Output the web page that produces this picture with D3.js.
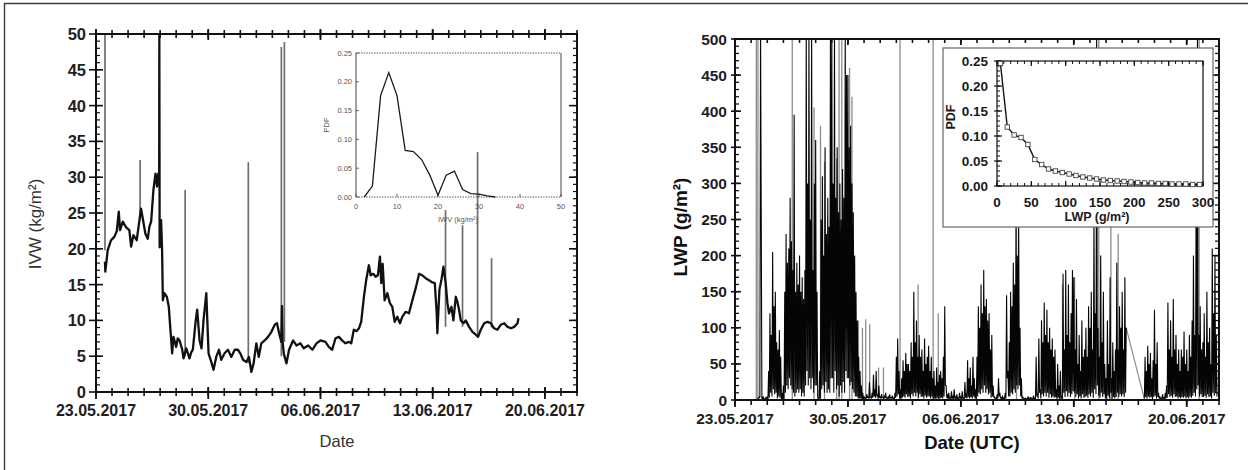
<!DOCTYPE html>
<html>
<head>
<meta charset="utf-8">
<script src="https://cdn.jsdelivr.net/npm/d3@7"></script>
<style>
  body { margin: 0; background: #fff; }
  svg { display: block; }
  text { font-family: "Liberation Sans", Arial, sans-serif; }
</style>
</head>
<body>
<svg id="chart" width="1248" height="470"></svg>
<script>
// ---------- data ----------
const periodStart = "23.05.2017";
const periodEnd = "22.06.2017";
const dateTickLabels = ["23.05.2017", "30.05.2017", "06.06.2017", "13.06.2017", "20.06.2017"];

// Integrated water vapour, time in days after 23.05.2017 00:00
const iwvDays = [0.56,0.58,0.73,0.94,1.15,1.30,1.42,1.50,1.67,1.88,2.08,2.19,2.33,2.54,2.71,2.81,2.92,3.08,3.23,3.33,3.44,3.58,3.71,3.81,3.88,3.94,3.95,3.97,4.06,4.12,4.17,4.27,4.42,4.54,4.63,4.75,4.83,5.00,5.10,5.21,5.38,5.46,5.63,5.83,5.95,6.04,6.21,6.31,6.46,6.58,6.71,6.88,7.02,7.19,7.33,7.50,7.67,7.81,8.02,8.23,8.44,8.65,8.85,9.00,9.17,9.38,9.54,9.69,9.83,10.00,10.15,10.31,10.52,10.73,10.94,11.15,11.29,11.42,11.56,11.60,11.64,11.71,11.88,12.04,12.29,12.50,12.75,12.96,13.23,13.50,13.75,14.00,14.31,14.52,14.73,14.94,15.15,15.35,15.56,15.77,15.92,16.08,16.25,16.40,16.54,16.71,16.85,17.02,17.13,17.29,17.44,17.58,17.71,17.79,17.88,18.00,18.17,18.33,18.48,18.63,18.79,18.96,19.10,19.31,19.52,19.73,19.94,20.15,20.35,20.56,20.77,20.98,21.13,21.25,21.29,21.42,21.54,21.67,21.81,21.92,22.02,22.17,22.29,22.44,22.54,22.65,22.75,22.92,23.06,23.27,23.48,23.69,23.83,24.00,24.21,24.42,24.63,24.83,25.04,25.25,25.46,25.67,25.88,26.08,26.29,26.35];
const iwvValues = [18.2,16.8,19.8,21.2,21.7,22.5,25.2,22.6,23.8,23.0,22.6,20.3,21.9,21.2,24.0,25.6,24.2,22.1,21.4,23.1,23.8,28.2,30.5,28.7,30.5,29.0,50.0,20.2,24.0,20.0,12.8,13.8,13.3,11.9,9.1,5.4,7.7,6.3,7.5,7.2,5.9,4.7,6.1,4.7,5.6,5.9,9.8,11.5,7.2,6.1,10.1,13.8,5.4,4.2,3.1,4.9,5.9,4.5,5.4,5.9,4.9,5.9,5.9,5.4,4.5,4.2,4.9,2.8,4.0,6.8,4.9,6.8,7.2,7.7,8.4,9.4,9.6,8.2,7.0,12.0,7.0,5.4,4.0,5.9,7.2,6.5,6.8,6.1,6.5,5.9,6.8,7.2,7.0,6.3,5.9,7.5,7.7,7.2,6.8,7.0,6.8,8.7,8.5,8.9,9.8,13.3,15.6,17.7,16.3,16.5,16.1,16.3,18.9,15.2,17.9,12.8,13.8,12.4,11.9,9.8,10.5,9.6,10.5,11.2,11.0,12.8,14.5,16.5,16.3,15.9,15.6,15.3,15.2,11.0,8.2,14.3,15.6,17.5,15.2,12.4,11.0,11.9,10.0,13.3,12.6,11.4,10.0,9.6,10.0,9.1,8.4,8.0,7.7,8.7,9.6,9.8,9.6,8.9,8.7,9.4,9.6,9.1,8.9,9.1,9.6,10.3];

// Single-sample IWV outliers (spike from base value to top value)
const iwvSpikeDays = [0.56, 2.75, 5.56, 9.50, 11.56, 11.75, 21.80, 22.86, 23.80, 24.67];
const iwvSpikeBase = [19.8, 24.0, 5.0, 4.0, 5.0, 7.0, 9.1, 9.1, 7.7, 9.0];
const iwvSpikeTop  = [50.0, 32.4, 28.2, 32.1, 48.2, 48.9, 25.4, 23.3, 33.5, 18.7];

// IWV probability density
const iwvPdfX = [2,4,6,8,10,12,14,16,18,20,22,24,26,28,30,32,34];
const iwvPdfY = [0.000,0.019,0.176,0.216,0.176,0.081,0.079,0.065,0.038,0.003,0.038,0.045,0.013,0.006,0.005,0.002,0.000];

// Liquid water path, hourly, first sample at day 1.25 (null = no data)
const lwpStartDay = 1.25;
const lwpStepHours = 1;
const lwpValues = [
  0,0,1,0,2,1,5,3,520,260,3,1,5,0,2,0,4,2,
  5,0,40,3,120,10,90,5,205,15,130,8,150,10,80,2,70,5,97,3,60,0,10,0,
  20,0,150,10,230,20,190,15,210,30,280,20,220,15,180,10,395,5,150,10,190,15,160,10,
  200,15,150,5,170,10,140,5,180,20,520,40,300,20,520,30,250,15,520,30,180,10,300,20,
  360,20,150,5,0,0,40,2,250,15,310,20,200,10,350,25,230,10,280,15,240,10,520,30,
  520,30,300,10,520,40,280,15,350,20,260,5,300,20,250,10,320,25,280,10,520,40,450,30,
  450,30,350,20,380,25,300,15,260,10,200,5,150,5,110,3,60,2,40,2,20,1,10,1,
  5,2,3,1,8,3,5,2,25,4,4,2,10,3,35,5,15,3,40,5,8,2,20,3,
  5,2,8,3,4,2,6,2,10,3,3,1,5,2,8,2,4,2,6,2,3,1,10,3,
  60,5,85,8,40,2,15,1,30,3,55,5,40,3,65,8,50,4,50,5,40,2,80,8,
  60,5,150,10,80,5,110,10,60,3,90,8,60,4,70,5,40,2,85,6,50,3,60,5,
  75,5,40,2,60,5,30,1,40,2,20,1,45,3,25,1,35,2,40,3,30,2,60,5,
  130,20,20,3,8,1,10,2,4,1,12,2,6,1,15,2,5,1,8,2,3,1,10,2,
  5,1,12,2,4,1,25,3,10,2,55,4,30,2,45,4,20,2,60,5,30,2,15,1,
  60,5,130,10,100,8,160,15,120,10,180,20,130,10,140,15,110,8,120,10,70,3,90,5,
  20,3,5,1,3,1,8,2,30,5,10,2,4,1,6,1,3,1,10,2,145,30,40,5,
  80,5,150,10,130,8,190,15,160,10,240,20,200,15,250,20,100,5,30,2,5,1,2,1,
  3,1,2,1,5,1,3,1,4,1,2,1,6,1,3,1,60,5,10,2,85,10,15,2,
  110,8,80,5,135,10,90,5,125,10,80,3,100,8,70,3,85,5,60,3,70,4,15,1,
  50,3,20,1,40,2,5,1,175,10,70,4,180,12,90,5,160,10,80,4,120,8,180,12,
  170,10,70,4,140,8,50,2,90,5,40,2,110,8,60,3,70,4,100,6,60,3,130,8,
  100,5,150,10,70,3,250,15,120,8,520,20,100,6,60,3,200,10,80,4,150,8,50,2,
  30,1,110,6,50,2,170,10,30,1,80,4,40,2,70,4,190,10,70,4,130,8,100,5,
  150,8,70,4,170,10,100,null,null,null,null,null,null,null,null,null,null,null,null,null,null,null,null,null,
  null,null,null,null,null,null,null,null,5,2,60,4,40,2,75,5,50,3,65,4,30,1,55,4,
  125,6,50,2,80,4,10,2,5,1,3,1,8,2,4,1,10,2,20,3,135,8,70,4,
  110,6,60,3,140,8,70,4,90,5,50,2,70,4,40,2,70,4,60,3,95,5,50,2,
  70,4,40,2,90,5,60,3,110,6,200,10,90,5,300,15,520,20,90,5,130,8,70,4,
  80,4,120,6,60,3,150,8,80,4,100,5,50,2,210,10,120,6,200,10,90,5
];

// Second LWP retrieval: isolated spikes and the line across the data gap
const lwpGrayDays = [1.32,1.42,3.55,4.90,5.30,5.55,6.30,6.45,6.62,7.10,7.25,7.65,7.90,8.10,8.35,8.90,9.20,10.23,11.35,12.28,12.60,17.45,20.30,21.05,22.55,23.30,23.75,28.77];
const lwpGrayTops = [540,540,540,405,380,330,335,540,540,460,420,110,100,112,105,45,45,540,160,540,120,290,160,170,540,260,230,540];
const lwpBridgeDays = [24.25, 25.33];
const lwpBridgeValues = [100, 5];

// LWP probability density
const lwpPdfX = [5,15,25,35,45,55,65,75,85,95,105,115,125,135,145,155,165,175,185,195,205,215,225,235,245,255,265,275,285,295];
const lwpPdfY = [0.245,0.118,0.102,0.097,0.083,0.053,0.043,0.034,0.030,0.027,0.024,0.021,0.018,0.016,0.014,0.012,0.011,0.010,0.009,0.008,0.007,0.006,0.006,0.005,0.005,0.004,0.004,0.004,0.003,0.003];

// ---------- helpers ----------
const svg = d3.select("#chart");
const parseDate = d3.timeParse("%d.%m.%Y");
const fmtDate = d3.timeFormat("%d.%m.%Y");
const t0 = parseDate(periodStart);
const t1 = parseDate(periodEnd);
const dayDate = d => new Date(t0.getTime() + d * 864e5);
const majorDates = dateTickLabels.map(parseDate);
const dailyDates = d3.timeDay.range(t0, d3.timeDay.offset(t1, 1));

function vTicks(g, xs, y, up, down, w, color) {
  g.append("g").selectAll("line").data(xs).join("line")
    .attr("x1", d => d).attr("x2", d => d)
    .attr("y1", y - up).attr("y2", y + down)
    .attr("stroke", color || "#111").attr("stroke-width", w);
}
function hTicks(g, ys, x, left, right, w, color) {
  g.append("g").selectAll("line").data(ys).join("line")
    .attr("y1", d => d).attr("y2", d => d)
    .attr("x1", x - left).attr("x2", x + right)
    .attr("stroke", color || "#111").attr("stroke-width", w);
}
function clip(id, x0, y0, x1, y1) {
  svg.append("clipPath").attr("id", id).append("rect")
    .attr("x", x0).attr("y", y0).attr("width", x1 - x0).attr("height", y1 - y0);
}

// outer frame
svg.append("path").attr("d", "M4.5,470 V3.5 H1248")
  .attr("fill", "none").attr("stroke", "#3a3a3a").attr("stroke-width", 1.4);

// ---------- left panel: IWV ----------
{
  const x = d3.scaleTime().domain([t0, t1]).range([96, 577]);
  const y = d3.scaleLinear().domain([0, 50]).range([392, 34]);
  const g = svg.append("g");
  clip("clipL", 96, 34, 577, 392);
  const plot = g.append("g").attr("clip-path", "url(#clipL)");

  plot.selectAll("line.spike").data(iwvSpikeDays).join("line")
    .attr("x1", d => x(dayDate(d))).attr("x2", d => x(dayDate(d)))
    .attr("y1", (d, i) => y(iwvSpikeBase[i])).attr("y2", (d, i) => y(iwvSpikeTop[i]))
    .attr("stroke", "#6e6e6e").attr("stroke-width", 1.7);

  plot.append("path")
    .datum(iwvDays.map((d, i) => [dayDate(d), iwvValues[i]]))
    .attr("d", d3.line().x(d => x(d[0])).y(d => y(d[1])))
    .attr("fill", "none").attr("stroke", "#111").attr("stroke-width", 2.3)
    .attr("stroke-linejoin", "round");

  // frame and ticks
  g.append("rect").attr("x", 96).attr("y", 34).attr("width", 481).attr("height", 358)
    .attr("fill", "none").attr("stroke", "#111").attr("stroke-width", 2);
  const dx = dailyDates.map(x), mx = majorDates.map(x);
  vTicks(g, dx, 392, 4, 4, 1.6);
  vTicks(g, mx, 392, 5, 7, 1.8);
  vTicks(g, dx, 34, 4, 4, 1.6);
  vTicks(g, mx, 34, 5, 6, 1.8);
  hTicks(g, d3.range(0, 51, 1).map(y), 96, 0, 4, 1.2);
  hTicks(g, d3.range(0, 51, 5).map(y), 96, 7, 7, 1.6);
  hTicks(g, d3.range(0, 51, 1).map(y), 577, 4, 0, 1.2);
  hTicks(g, d3.range(0, 51, 10).map(y), 577, 8, 0, 1.6);

  g.append("g").selectAll("text").data(d3.range(0, 51, 5)).join("text")
    .attr("x", 86).attr("y", d => y(d)).attr("dy", "0.36em")
    .attr("text-anchor", "end").attr("font-size", 16.5).attr("font-weight", "bold")
    .attr("fill", "#1e1e1e").text(d => d);
  g.append("g").selectAll("text").data(majorDates).join("text")
    .attr("x", d => x(d)).attr("y", 416)
    .attr("text-anchor", "middle").attr("font-size", 16).attr("font-weight", "bold")
    .attr("fill", "#1e1e1e").text(fmtDate);
  g.append("text").attr("x", 337).attr("y", 447).attr("text-anchor", "middle")
    .attr("font-size", 16.5).attr("fill", "#333").text("Date");
  g.append("text").attr("transform", "translate(41,224) rotate(-90)")
    .attr("text-anchor", "middle").attr("font-size", 17).attr("fill", "#333")
    .text("IVW (kg/m²)");

  // inset: IWV PDF
  const xi = d3.scaleLinear().domain([0, 50]).range([356, 561]);
  const yi = d3.scaleLinear().domain([0, 0.25]).range([197, 53]);
  const ins = svg.append("g");
  ins.append("line").attr("x1", 356).attr("x2", 356).attr("y1", 53).attr("y2", 197)
    .attr("stroke", "#444").attr("stroke-width", 1);
  ins.append("line").attr("x1", 561).attr("x2", 561).attr("y1", 53).attr("y2", 197)
    .attr("stroke", "#444").attr("stroke-width", 1);
  ins.append("line").attr("x1", 356).attr("x2", 561).attr("y1", 53).attr("y2", 53)
    .attr("stroke", "#444").attr("stroke-width", 1).attr("stroke-dasharray", "1.3,1.3");
  ins.append("line").attr("x1", 356).attr("x2", 561).attr("y1", 197).attr("y2", 197)
    .attr("stroke", "#444").attr("stroke-width", 1).attr("stroke-dasharray", "1.3,1.3");
  vTicks(ins, d3.range(0, 51, 10).map(xi), 197, 3, 0, 0.8, "#444");
  hTicks(ins, d3.range(0, 0.2501, 0.05).map(yi), 356, 0, 3, 0.8, "#444");
  ins.append("g").selectAll("text").data(d3.range(0, 0.2501, 0.05)).join("text")
    .attr("x", 352).attr("y", d => yi(d)).attr("dy", "0.35em").attr("text-anchor", "end")
    .attr("font-family", "DejaVu Sans").attr("font-size", 7.5).attr("fill", "#555")
    .text(d3.format(".2f"));
  ins.append("g").selectAll("text").data(d3.range(0, 51, 10)).join("text")
    .attr("x", d => xi(d)).attr("y", 209).attr("text-anchor", "middle")
    .attr("font-family", "DejaVu Sans").attr("font-size", 7.5).attr("fill", "#555")
    .text(d => d);
  ins.append("text").attr("x", 458).attr("y", 222).attr("text-anchor", "middle")
    .attr("font-family", "DejaVu Sans").attr("font-size", 7.5).attr("fill", "#555")
    .text("IWV (kg/m²)");
  ins.append("text").attr("transform", "translate(328.5,125) rotate(-90)")
    .attr("text-anchor", "middle").attr("font-family", "DejaVu Sans")
    .attr("font-size", 7.5).attr("fill", "#555").text("PDF");
  ins.append("path").datum(iwvPdfX.map((d, i) => [d, iwvPdfY[i]]))
    .attr("d", d3.line().x(d => xi(d[0])).y(d => yi(d[1])))
    .attr("fill", "none").attr("stroke", "#1a1a1a").attr("stroke-width", 1.3);
}

// ---------- right panel: LWP ----------
{
  const x = d3.scaleTime().domain([t0, t1]).range([735, 1219]);
  const y = d3.scaleLinear().domain([0, 500]).range([400, 39]);
  const g = svg.append("g");
  clip("clipR", 735, 39, 1219, 400);
  const plot = g.append("g").attr("clip-path", "url(#clipR)");

  plot.selectAll("line.gray").data(lwpGrayDays).join("line")
    .attr("x1", d => x(dayDate(d))).attr("x2", d => x(dayDate(d)))
    .attr("y1", y(0)).attr("y2", (d, i) => y(lwpGrayTops[i]))
    .attr("stroke", "#8c8c8c").attr("stroke-width", 1.3);
  plot.append("path")
    .datum(lwpBridgeDays.map((d, i) => [dayDate(d), lwpBridgeValues[i]]))
    .attr("d", d3.line().x(d => x(d[0])).y(d => y(d[1])))
    .attr("fill", "none").attr("stroke", "#8c8c8c").attr("stroke-width", 1.2);

  const lwpSeries = lwpValues.map((v, i) => [dayDate(lwpStartDay + i * lwpStepHours / 24), v]);
  plot.append("path").datum(lwpSeries)
    .attr("d", d3.line().defined(d => d[1] !== null).x(d => x(d[0])).y(d => y(d[1])))
    .attr("fill", "none").attr("stroke", "#050505").attr("stroke-width", 1.1)
    .attr("stroke-linejoin", "bevel");

  g.append("rect").attr("x", 735).attr("y", 39).attr("width", 484).attr("height", 361)
    .attr("fill", "none").attr("stroke", "#111").attr("stroke-width", 2);
  const dx = dailyDates.map(x), mx = majorDates.map(x);
  vTicks(g, dx, 400, 0, 5, 1.6);
  vTicks(g, mx, 400, 0, 7, 1.8);
  vTicks(g, dx, 39, 0, 4, 1.6);
  vTicks(g, mx, 39, 0, 6, 1.8);
  hTicks(g, d3.range(0, 501, 10).map(y), 735, 0, 4, 1.3);
  hTicks(g, d3.range(0, 501, 50).map(y), 735, 4, 6, 1.6);
  hTicks(g, d3.range(0, 501, 10).map(y), 1219, 4, 0, 1.3);
  hTicks(g, d3.range(0, 501, 50).map(y), 1219, 7, 0, 1.6);

  g.append("g").selectAll("text").data(d3.range(0, 501, 50)).join("text")
    .attr("x", 727).attr("y", d => y(d)).attr("dy", "0.36em")
    .attr("text-anchor", "end").attr("font-size", 15.5).attr("font-weight", "bold")
    .attr("fill", "#1e1e1e").text(d => d);
  g.append("g").selectAll("text").data(majorDates).join("text")
    .attr("x", d => x(d)).attr("y", 424)
    .attr("text-anchor", "middle").attr("font-size", 15.5).attr("font-weight", "bold")
    .attr("fill", "#1e1e1e").text(fmtDate);
  g.append("text").attr("x", 972).attr("y", 449).attr("text-anchor", "middle")
    .attr("font-size", 18.5).attr("font-weight", "bold").attr("fill", "#111")
    .text("Date (UTC)");
  g.append("text").attr("transform", "translate(687,227) rotate(-90)")
    .attr("text-anchor", "middle").attr("font-size", 19).attr("font-weight", "bold")
    .attr("fill", "#111").text("LWP (g/m²)");

  // inset: LWP PDF
  const xj = d3.scaleLinear().domain([0, 300]).range([997, 1203]);
  const yj = d3.scaleLinear().domain([0, 0.25]).range([186, 61]);
  const ins = svg.append("g");
  ins.append("rect").attr("x", 943).attr("y", 48).attr("width", 270).attr("height", 179)
    .attr("fill", "#fff").attr("stroke", "#666").attr("stroke-width", 1.2);
  ins.append("rect").attr("x", 997).attr("y", 61).attr("width", 206).attr("height", 125)
    .attr("fill", "none").attr("stroke", "#222").attr("stroke-width", 1.3);
  vTicks(ins, d3.range(0, 301, 10).map(xj), 186, 3, 0, 1);
  vTicks(ins, d3.range(0, 301, 50).map(xj), 186, 5, 0, 1.2);
  vTicks(ins, d3.range(0, 301, 10).map(xj), 61, 0, 3, 1);
  vTicks(ins, d3.range(0, 301, 50).map(xj), 61, 0, 5, 1.2);
  hTicks(ins, d3.range(0, 0.2501, 0.01).map(yj), 997, 0, 3, 1);
  hTicks(ins, d3.range(0, 0.2501, 0.05).map(yj), 997, 3, 5, 1.2);
  ins.append("g").selectAll("text").data(d3.range(0, 0.2501, 0.05)).join("text")
    .attr("x", 988).attr("y", d => yj(d)).attr("dy", "0.36em").attr("text-anchor", "end")
    .attr("font-size", 13.5).attr("font-weight", "bold").attr("fill", "#1a1a1a")
    .text(d3.format(".2f"));
  ins.append("g").selectAll("text").data(d3.range(0, 301, 50)).join("text")
    .attr("x", d => xj(d)).attr("y", 207).attr("text-anchor", "middle")
    .attr("font-size", 13.5).attr("font-weight", "bold").attr("fill", "#1a1a1a")
    .text(d => d);
  ins.append("text").attr("x", 1097).attr("y", 221).attr("text-anchor", "middle")
    .attr("font-size", 12.5).attr("font-weight", "bold").attr("fill", "#1a1a1a")
    .text("LWP (g/m²)");
  ins.append("text").attr("transform", "translate(955,117) rotate(-90)")
    .attr("text-anchor", "middle").attr("font-size", 12.5).attr("font-weight", "bold")
    .attr("fill", "#1a1a1a").text("PDF");
  const pts = lwpPdfX.map((d, i) => [d, lwpPdfY[i]]);
  ins.append("path").datum(pts)
    .attr("d", d3.line().x(d => xj(d[0])).y(d => yj(d[1])))
    .attr("fill", "none").attr("stroke", "#111").attr("stroke-width", 1.4);
  ins.append("g").selectAll("rect").data(pts).join("rect")
    .attr("x", d => xj(d[0]) - 2.2).attr("y", d => yj(d[1]) - 2.2)
    .attr("width", 4.4).attr("height", 4.4)
    .attr("fill", "#fff").attr("stroke", "#444").attr("stroke-width", 0.9);
}
</script>
</body>
</html>
